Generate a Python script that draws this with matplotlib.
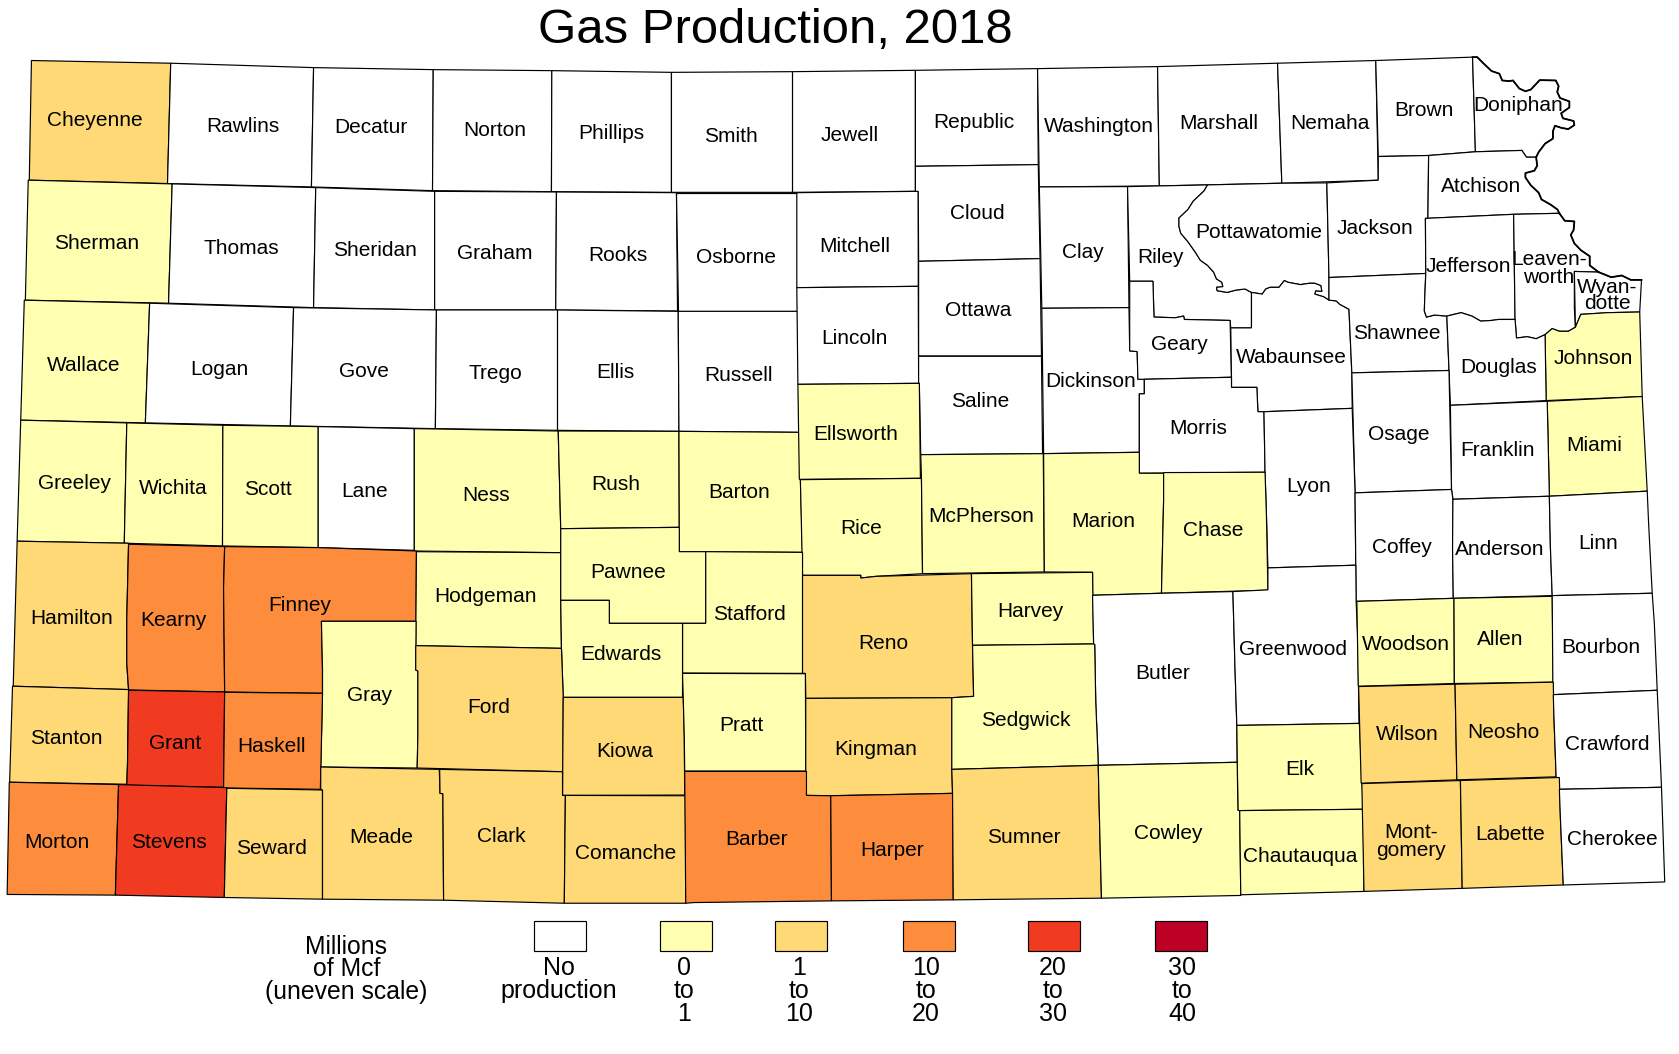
import matplotlib
matplotlib.use('Agg')
import matplotlib.pyplot as plt
from matplotlib.patches import Polygon, Rectangle

# Map units: the picture is 4701 wide and 3118 high, y runs downwards
MAP_WIDTH = 4701
MAP_HEIGHT = 3118

TITLE = 'Gas Production, 2018'

# Shared wiggly borders
MO_DONIPHAN = [(4123, 169), (4136, 169), (4156, 190), (4176, 210), (4198, 218), (4206, 238), (4226, 240), (4236, 238),
               (4254, 262), (4271, 270), (4286, 265), (4311, 237), (4356, 238), (4364, 255), (4360, 272), (4368, 290),
               (4394, 300), (4394, 318), (4371, 335), (4376, 350), (4406, 358), (4408, 370), (4391, 382), (4371, 378),
               (4354, 372), (4348, 388), (4348, 410), (4326, 425), (4308, 450), (4301, 465)]
MO_ATCHISON = [(4301, 465), (4304, 490), (4296, 505), (4271, 512), (4271, 525), (4286, 548), (4308, 570), (4316, 590),
               (4341, 605), (4361, 620), (4366, 631)]
MO_LEAVEN = [(4366, 631), (4381, 653), (4408, 655), (4406, 680), (4398, 695), (4408, 720), (4426, 740), (4451, 758),
             (4451, 785), (4476, 805)]
MO_WYANDOTTE = [(4476, 805), (4511, 820), (4541, 815), (4566, 828), (4596, 828)]
POTT_RILEY = [(3381, 547), (3371, 565), (3341, 595), (3326, 620), (3301, 645), (3301, 670), (3306, 690), (3326, 715),
              (3346, 745), (3361, 770), (3381, 785), (3398, 805), (3406, 825), (3421, 835), (3424, 848), (3406, 850),
              (3408, 860), (3436, 865), (3461, 858), (3486, 855), (3504, 865)]
POTT_WAB = [(3504, 865), (3534, 870), (3544, 855), (3556, 850), (3581, 850), (3596, 830), (3606, 835), (3641, 842),
            (3666, 838), (3681, 838), (3698, 845), (3701, 862), (3684, 860), (3681, 870), (3706, 878), (3721, 888)]

COUNTY_OUTLINES = {
    'Cheyenne': [(88, 179), (478, 187), (469, 543), (82, 533)],
    'Rawlins': [(478, 187), (878, 200), (872, 553), (469, 543)],
    'Decatur': [(878, 200), (1213, 206), (1211, 564), (872, 553)],
    'Norton': [(1213, 206), (1545, 209), (1544, 567), (1211, 564)],
    'Phillips': [(1545, 209), (1880, 214), (1880, 569), (1544, 567)],
    'Smith': [(1880, 214), (2219, 212), (2219, 569), (1880, 569)],
    'Jewell': [(2219, 212), (2563, 208), (2563, 566), (2219, 569)],
    'Republic': [(2563, 208), (2905, 203), (2907, 487), (2563, 492)],
    'Washington': [(2905, 203), (3241, 197), (3246, 550), (2910, 553)],
    'Marshall': [(3241, 197), (3577, 187), (3589, 542), (3246, 550)],
    'Nemaha': [(3577, 187), (3852, 179), (3859, 533), (3589, 542)],
    'Brown': [(3852, 179), (4123, 169), (4131, 449), (4000, 460), (3859, 463)],
    'Doniphan': MO_DONIPHAN + [(4274, 465), (4261, 445), (4131, 449)],
    'Sherman': [(79, 533), (482, 544), (472, 897), (71, 888)],
    'Thomas': [(482, 544), (884, 555), (878, 910), (472, 897)],
    'Sheridan': [(884, 555), (1217, 566), (1217, 917), (878, 910)],
    'Graham': [(1217, 566), (1558, 568), (1556, 917), (1217, 917)],
    'Rooks': [(1558, 568), (1894, 570), (1897, 920), (1556, 917)],
    'Osborne': [(1894, 570), (2231, 570), (2231, 920), (1897, 920)],
    'Mitchell': [(2231, 570), (2571, 566), (2571, 847), (2231, 851)],
    'Cloud': [(2563, 492), (2907, 487), (2912, 765), (2572, 773), (2571, 566), (2563, 566)],
    'Clay': [(2910, 553), (3157, 552), (3161, 910), (2917, 912)],
    'Riley': [(3157, 552), (3246, 550)] + POTT_RILEY + [(3504, 970), (3446, 970), (3444, 948), (3316, 945),
                                                       (3314, 935), (3291, 940), (3231, 938), (3228, 832), (3163, 832)],
    'Pottawatomie': [(3381, 547), (3589, 542), (3715, 541), (3721, 821)] + POTT_WAB[::-1] + POTT_RILEY[::-1],
    'Jackson': [(3715, 541), (3859, 533), (3859, 463), (4000, 460), (3998, 646), (3991, 646), (3992, 809), (3721, 821)],
    'Atchison': [(4000, 460), (4131, 449), (4261, 445), (4274, 465)] + MO_ATCHISON + [(4238, 634), (3998, 646)],
    'Wallace': [(68, 888), (419, 897), (407, 1251), (58, 1243)],
    'Logan': [(419, 897), (822, 910), (813, 1260), (407, 1251)],
    'Gove': [(822, 910), (1222, 917), (1219, 1268), (813, 1260)],
    'Trego': [(1222, 917), (1561, 917), (1561, 1273), (1219, 1268)],
    'Ellis': [(1561, 917), (1899, 921), (1901, 1276), (1561, 1273)],
    'Russell': [(1899, 921), (2233, 921), (2238, 1279), (1901, 1276)],
    'Lincoln': [(2231, 851), (2571, 847), (2572, 1134), (2234, 1137)],
    'Ottawa': [(2572, 773), (2912, 765), (2916, 1053), (2572, 1053)],
    'Saline': [(2572, 1054), (2916, 1054), (2919, 1342), (2578, 1345), (2574, 1134), (2572, 1134)],
    'Dickinson': [(2917, 912), (3161, 910), (3163, 1038), (3184, 1040), (3186, 1122), (3204, 1122), (3204, 1165),
                  (3190, 1165), (3190, 1338), (2922, 1342)],
    'Geary': [(3163, 832), (3228, 832), (3231, 938), (3291, 940), (3314, 935), (3316, 945), (3444, 948), (3448, 1116),
              (3204, 1122), (3186, 1122), (3184, 1040), (3163, 1038)],
    'Wabaunsee': POTT_WAB + [(3741, 890), (3751, 900), (3777, 915), (3785, 1103), (3786, 1208), (3539, 1218),
                             (3522, 1218), (3519, 1146), (3448, 1146), (3448, 1116), (3446, 970), (3504, 970)],
    'Shawnee': [(3721, 821), (3992, 809), (3989, 885), (3988, 920), (3994, 938), (4016, 932), (4051, 935), (4057, 1096),
                (3785, 1103), (3777, 915), (3751, 900), (3741, 890), (3721, 888)],
    'Jefferson': [(3991, 646), (4238, 634), (4242, 945), (4196, 945), (4176, 948), (4146, 950), (4121, 935), (4091, 925),
                  (4051, 935), (4016, 932), (3994, 938), (3988, 920), (3989, 885), (3992, 809)],
    'Leavenworth': [(4238, 634)] + MO_LEAVEN + [(4408, 803), (4408, 910), (4411, 968), (4391, 980), (4366, 980),
                                               (4346, 972), (4326, 990), (4301, 1002), (4276, 996), (4246, 1000),
                                               (4242, 945)],
    'Wyandotte': [(4408, 803)] + MO_WYANDOTTE + [(4591, 923), (4501, 925), (4426, 930), (4418, 950), (4411, 968)],
    'Johnson': [(4591, 923), (4598, 1173), (4329, 1185), (4326, 990), (4346, 972), (4366, 980), (4391, 980), (4411, 968),
                (4418, 950), (4426, 930), (4501, 925)],
    'Douglas': [(4051, 935), (4091, 925), (4121, 935), (4146, 950), (4176, 948), (4196, 945), (4242, 945), (4246, 1000),
                (4276, 996), (4301, 1002), (4326, 990), (4329, 1185), (4061, 1199)],
    'Miami': [(4332, 1187), (4598, 1173), (4612, 1453), (4338, 1468)],
    'Franklin': [(4061, 1199), (4332, 1187), (4338, 1468), (4068, 1477), (4064, 1448)],
    'Osage': [(3785, 1103), (4057, 1096), (4064, 1448), (3794, 1458)],
    'Morris': [(3204, 1122), (3448, 1116), (3448, 1146), (3519, 1146), (3522, 1218), (3539, 1218), (3542, 1397),
               (3190, 1400), (3190, 1165), (3204, 1165)],
    'Lyon': [(3539, 1218), (3786, 1208), (3794, 1458), (3796, 1672), (3550, 1680), (3546, 1530), (3542, 1397)],
    'Greeley': [(58, 1243), (355, 1251), (348, 1607), (48, 1601)],
    'Wichita': [(355, 1251), (624, 1258), (623, 1615), (348, 1607)],
    'Scott': [(624, 1258), (891, 1262), (891, 1620), (623, 1615)],
    'Lane': [(891, 1262), (1160, 1268), (1160, 1628), (891, 1620)],
    'Ness': [(1160, 1268), (1563, 1275), (1570, 1564), (1570, 1635), (1160, 1630)],
    'Rush': [(1563, 1275), (1901, 1276), (1902, 1560), (1732, 1562), (1570, 1564)],
    'Barton': [(1901, 1276), (2238, 1279), (2241, 1419), (2247, 1634), (1902, 1632)],
    'Ellsworth': [(2234, 1137), (2574, 1134), (2577, 1415), (2238, 1418)],
    'Rice': [(2241, 1419), (2580, 1415), (2583, 1697), (2453, 1705), (2410, 1710), (2410, 1702), (2247, 1702)],
    'McPherson': [(2578, 1345), (2921, 1342), (2924, 1692), (2583, 1697), (2580, 1415)],
    'Marion': [(2922, 1342), (3190, 1338), (3190, 1400), (3258, 1400), (3258, 1480), (3252, 1755), (3059, 1761),
               (3059, 1693), (2924, 1692)],
    'Chase': [(3258, 1398), (3542, 1397), (3546, 1530), (3550, 1746), (3252, 1755), (3258, 1480)],
    'Coffey': [(3794, 1458), (4064, 1448), (4068, 1477), (4067, 1620), (4069, 1770), (3797, 1779), (3796, 1672)],
    'Anderson': [(4068, 1477), (4338, 1468), (4341, 1620), (4346, 1762), (4069, 1770), (4067, 1620)],
    'Linn': [(4338, 1468), (4612, 1453), (4616, 1550), (4626, 1755), (4346, 1762), (4341, 1620)],
    'Hamilton': [(48, 1601), (360, 1607), (355, 1830), (355, 1962), (360, 2040), (37, 2030)],
    'Kearny': [(360, 1610), (629, 1617), (626, 1740), (629, 2047), (360, 2041), (355, 1962), (355, 1830)],
    'Finney': [(629, 1617), (890, 1620), (1166, 1630), (1165, 1838), (900, 1838), (903, 1980), (903, 2051), (629, 2047),
               (626, 1740)],
    'Hodgeman': [(1166, 1632), (1570, 1635), (1570, 1776), (1572, 1918), (1164, 1910)],
    'Pawnee': [(1570, 1564), (1902, 1560), (1902, 1632), (1976, 1632), (1976, 1844), (1706, 1844), (1706, 1776),
               (1570, 1776)],
    'Stafford': [(1976, 1632), (2247, 1634), (2247, 1992), (1911, 1991), (1911, 1844), (1976, 1844)],
    'Edwards': [(1570, 1776), (1706, 1776), (1706, 1844), (1911, 1844), (1911, 2063), (1577, 2063), (1572, 1918)],
    'Reno': [(2247, 1702), (2410, 1702), (2410, 1710), (2453, 1705), (2720, 1697), (2723, 1910), (2726, 2060),
             (2665, 2064), (2256, 2066), (2255, 1992), (2247, 1992)],
    'Harvey': [(2720, 1697), (3059, 1693), (3062, 1905), (2723, 1909)],
    'Butler': [(3059, 1761), (3252, 1755), (3452, 1750), (3458, 1980), (3463, 2146), (3464, 2255), (3075, 2264),
               (3073, 2205), (3068, 2080), (3065, 1907), (3062, 1905)],
    'Greenwood': [(3452, 1750), (3550, 1745), (3550, 1680), (3796, 1672), (3797, 1779), (3802, 1900), (3805, 2140),
                  (3463, 2146), (3458, 1980)],
    'Woodson': [(3799, 1779), (4071, 1770), (4072, 2022), (3803, 2030)],
    'Allen': [(4071, 1770), (4346, 1764), (4349, 2018), (4072, 2022)],
    'Bourbon': [(4346, 1762), (4626, 1755), (4632, 1845), (4640, 2042), (4348, 2055)],
    'Gray': [(900, 1838), (1165, 1838), (1164, 1982), (1170, 1985), (1170, 2178), (1168, 2272), (898, 2269), (903, 2051),
             (903, 1980)],
    'Ford': [(1164, 1910), (1572, 1918), (1577, 2063), (1576, 2283), (1168, 2272), (1170, 2178), (1170, 1985),
             (1164, 1982)],
    'Stanton': [(35, 2030), (360, 2040), (357, 2260), (355, 2320), (27, 2314)],
    'Grant': [(360, 2042), (629, 2047), (626, 2329), (355, 2323), (357, 2260)],
    'Haskell': [(629, 2048), (903, 2051), (897, 2335), (626, 2331)],
    'Kiowa': [(1577, 2063), (1913, 2063), (1916, 2182), (1917, 2352), (1575, 2353)],
    'Pratt': [(1911, 1992), (2255, 1993), (2256, 2281), (1917, 2281), (1916, 2182), (1913, 2063)],
    'Kingman': [(2256, 2066), (2665, 2064), (2665, 2276), (2667, 2347), (2326, 2354), (2258, 2353), (2256, 2281)],
    'Sedgwick': [(2723, 1909), (3062, 1905), (3065, 1907), (3068, 2080), (3073, 2205), (3075, 2264), (2665, 2276),
                 (2665, 2064), (2726, 2060)],
    'Elk': [(3463, 2146), (3806, 2140), (3810, 2230), (3814, 2317), (3817, 2394), (3466, 2398)],
    'Wilson': [(3804, 2031), (4074, 2024), (4079, 2307), (3811, 2317)],
    'Neosho': [(4074, 2024), (4349, 2018), (4351, 2125), (4357, 2298), (4079, 2307)],
    'Crawford': [(4349, 2055), (4640, 2042), (4652, 2329), (4366, 2335), (4357, 2298), (4351, 2125)],
    'Morton': [(26, 2314), (332, 2321), (323, 2648), (20, 2646)],
    'Stevens': [(332, 2321), (635, 2330), (628, 2655), (323, 2648)],
    'Seward': [(635, 2332), (903, 2337), (903, 2660), (628, 2655)],
    'Meade': [(898, 2269), (1230, 2276), (1232, 2347), (1240, 2348), (1242, 2663), (903, 2660), (903, 2337), (898, 2335)],
    'Clark': [(1231, 2276), (1575, 2283), (1575, 2353), (1583, 2353), (1582, 2460), (1580, 2672), (1242, 2663),
              (1240, 2348), (1232, 2347)],
    'Comanche': [(1583, 2353), (1919, 2354), (1920, 2672), (1580, 2672)],
    'Barber': [(1917, 2282), (2258, 2282), (2258, 2353), (2326, 2354), (2328, 2665), (1943, 2670), (1920, 2672)],
    'Harper': [(2326, 2354), (2667, 2347), (2669, 2662), (2328, 2665)],
    'Sumner': [(2665, 2276), (3075, 2264), (3078, 2405), (3084, 2657), (2669, 2662), (2667, 2347)],
    'Cowley': [(3075, 2264), (3464, 2255), (3466, 2397), (3471, 2398), (3474, 2649), (3084, 2657), (3078, 2405)],
    'Chautauqua': [(3471, 2398), (3817, 2394), (3819, 2637), (3474, 2647)],
    'Montgomery': [(3813, 2318), (4089, 2309), (4094, 2628), (3819, 2637)],
    'Labette': [(4089, 2309), (4366, 2300), (4369, 2420), (4377, 2618), (4094, 2628)],
    'Cherokee': [(4366, 2335), (4652, 2329), (4661, 2609), (4377, 2618), (4369, 2420)],
}

# Production class of each county, every other county is "no production"
COUNTIES_0_1 = ['Sherman', 'Wallace', 'Greeley', 'Wichita', 'Scott', 'Ness', 'Rush', 'Barton', 'Pawnee', 'Hodgeman',
                'Edwards', 'Stafford', 'Gray', 'Pratt', 'Ellsworth', 'Rice', 'McPherson', 'Marion', 'Chase', 'Harvey',
                'Sedgwick', 'Cowley', 'Elk', 'Chautauqua', 'Woodson', 'Allen', 'Johnson', 'Miami']
COUNTIES_1_10 = ['Cheyenne', 'Hamilton', 'Stanton', 'Seward', 'Meade', 'Clark', 'Ford', 'Kiowa', 'Comanche', 'Reno',
                 'Kingman', 'Sumner', 'Wilson', 'Neosho', 'Montgomery', 'Labette']
COUNTIES_10_20 = ['Kearny', 'Finney', 'Haskell', 'Morton', 'Barber', 'Harper']
COUNTIES_20_30 = ['Grant', 'Stevens']
COUNTIES_30_40 = []

CLASS_COLORS = ['#ffffff', '#ffffb2', '#fed976', '#fd8d3c', '#f03b20', '#bd0026']
LEGEND_LABELS = [['No', 'production'], ['0', 'to', '1'], ['1', 'to', '10'], ['10', 'to', '20'], ['20', 'to', '30'],
                 ['30', 'to', '40']]
LEGEND_TITLE = ['Millions', 'of Mcf', '(uneven scale)']

COUNTY_LABELS = [
    ('Cheyenne', 266, 355), ('Rawlins', 680, 373), ('Decatur', 1038, 378), ('Norton', 1384, 386),
    ('Phillips', 1713, 396), ('Smith', 2046, 404), ('Jewell', 2380, 401), ('Republic', 2726, 361),
    ('Washington', 3078, 375), ('Marshall', 3411, 366), ('Nemaha', 3724, 364), ('Brown', 3986, 328),
    ('Doniphan', 4250, 313), ('Sherman', 270, 720), ('Thomas', 676, 736), ('Sheridan', 1050, 742),
    ('Graham', 1384, 751), ('Rooks', 1730, 757), ('Osborne', 2060, 762), ('Mitchell', 2392, 730),
    ('Cloud', 2735, 633), ('Clay', 3031, 747), ('Riley', 3248, 761), ('Pottawatomie', 3524, 689),
    ('Jackson', 3851, 677), ('Atchison', 4146, 553), ('Jefferson', 4112, 789), ('Leaven-', 4338, 768),
    ('worth', 4336, 821), ('Wyan-', 4501, 851), ('dotte', 4500, 899), ('Wallace', 234, 1081), ('Logan', 614, 1094),
    ('Gove', 1020, 1100), ('Trego', 1386, 1106), ('Ellis', 1724, 1102), ('Russell', 2068, 1111),
    ('Lincoln', 2392, 1002), ('Ottawa', 2738, 919), ('Saline', 2744, 1189), ('Dickinson', 3053, 1129),
    ('Geary', 3303, 1019), ('Wabaunsee', 3617, 1059), ('Shawnee', 3912, 988), ('Johnson', 4461, 1062),
    ('Douglas', 4197, 1087), ('Morris', 3355, 1268), ('Osage', 3916, 1286), ('Franklin', 4194, 1333),
    ('Miami', 4464, 1319), ('Lyon', 3664, 1440), ('Greeley', 208, 1431), ('Wichita', 484, 1446), ('Scott', 750, 1447),
    ('Lane', 1020, 1454), ('Ness', 1361, 1466), ('Rush', 1725, 1434), ('Barton', 2070, 1458),
    ('Ellsworth', 2395, 1286), ('Rice', 2411, 1564), ('McPherson', 2748, 1529), ('Marion', 3088, 1542),
    ('Chase', 3397, 1568), ('Coffey', 3926, 1619), ('Anderson', 4200, 1626), ('Linn', 4475, 1609),
    ('Hamilton', 200, 1831), ('Kearny', 487, 1836), ('Finney', 840, 1791), ('Hodgeman', 1358, 1765),
    ('Pawnee', 1760, 1695), ('Stafford', 2098, 1819), ('Edwards', 1739, 1937), ('Reno', 2473, 1905),
    ('Harvey', 2886, 1809), ('Butler', 3256, 1992), ('Greenwood', 3621, 1922), ('Woodson', 3936, 1908),
    ('Allen', 4201, 1892), ('Bourbon', 4482, 1914), ('Gray', 1035, 2058), ('Ford', 1367, 2094), ('Stanton', 186, 2185),
    ('Grant', 491, 2198), ('Haskell', 760, 2208), ('Pratt', 2077, 2147), ('Sedgwick', 2872, 2130), ('Kiowa', 1748, 2224),
    ('Kingman', 2451, 2218), ('Elk', 3640, 2276), ('Wilson', 3940, 2174), ('Neosho', 4209, 2168), ('Crawford', 4500, 2201),
    ('Morton', 160, 2491), ('Stevens', 474, 2492), ('Seward', 761, 2511), ('Meade', 1068, 2479), ('Clark', 1404, 2476),
    ('Comanche', 1752, 2526), ('Barber', 2119, 2482), ('Harper', 2499, 2516), ('Sumner', 2866, 2479),
    ('Cowley', 3271, 2466), ('Chautauqua', 3641, 2533), ('Mont-', 3951, 2464), ('gomery', 3952, 2515),
    ('Labette', 4229, 2470), ('Cherokee', 4514, 2484),
]

plt.rcParams['font.family'] = ['Liberation Sans', 'DejaVu Sans']


def county_color(name):
    classes = [COUNTIES_0_1, COUNTIES_1_10, COUNTIES_10_20, COUNTIES_20_30, COUNTIES_30_40]
    for i, members in enumerate(classes):
        if name in members:
            return CLASS_COLORS[i + 1]
    return CLASS_COLORS[0]


fig = plt.figure(figsize=(16.79, 10.54), dpi=100)
ax = fig.add_axes([0, 0, 1, 1])
ax.set_xlim(0, MAP_WIDTH)
ax.set_ylim(MAP_HEIGHT, 0)
ax.axis('off')

ax.text(2170, 89, TITLE, fontsize=35.4, ha='center', va='center')

for name, outline in COUNTY_OUTLINES.items():
    ax.add_patch(Polygon(outline, closed=True, facecolor=county_color(name), edgecolor='black', linewidth=0.85,
                         joinstyle='miter'))

# The river edge prints heavier than the county lines
for river in [MO_DONIPHAN, MO_ATCHISON, MO_LEAVEN, MO_WYANDOTTE]:
    ax.plot([p[0] for p in river], [p[1] for p in river], color='black', linewidth=1.3)

for label, x, y in COUNTY_LABELS:
    ax.text(x, y, label, fontsize=15, ha='center', va='center')

# Legend
swatch_left = [1496, 1849, 2171, 2529, 2879, 3235]
text_center = [1565, 1915, 2236, 2593, 2948, 3310]
text_rows = [2864, 2933, 3000]
for i, color in enumerate(CLASS_COLORS):
    ax.add_patch(Rectangle((swatch_left[i], 2726), 145, 88, facecolor=color, edgecolor='black', linewidth=0.85))
    for row, line in zip(text_rows, LEGEND_LABELS[i]):
        ax.text(text_center[i], row, line, fontsize=18, ha='center', va='center')

for row, line in zip([2800, 2868, 2936], LEGEND_TITLE):
    ax.text(970, row, line, fontsize=17.8, ha='center', va='center')

fig.savefig('out.png', dpi=100)
plt.close(fig)
